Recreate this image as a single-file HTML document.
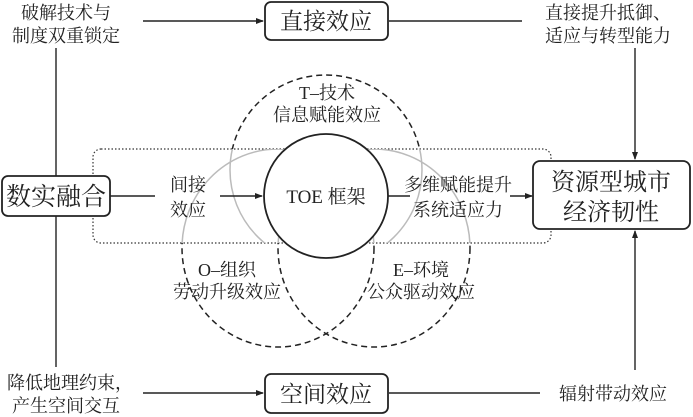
<!DOCTYPE html>
<html><head><meta charset="utf-8"><style>
html,body{margin:0;padding:0;background:#fff;}
svg{display:block;}
text{font-family:"Liberation Serif","Noto Serif CJK SC","Noto Sans CJK SC",serif;fill:#222;text-anchor:middle;}
</style></head><body>
<svg width="693" height="417" viewBox="0 0 693 417" xmlns="http://www.w3.org/2000/svg">
<defs>
<marker id="ar" markerWidth="8" markerHeight="8" refX="7" refY="4" orient="auto" markerUnits="userSpaceOnUse">
<path d="M0,1 L8,4 L0,7 z" fill="#222"/></marker>
<clipPath id="inRect"><rect x="0" y="149" width="693" height="94"/></clipPath>
<clipPath id="above"><rect x="0" y="0" width="693" height="149"/></clipPath>
<clipPath id="below"><rect x="0" y="243" width="693" height="200"/></clipPath>
</defs>
<!-- dotted rect -->
<rect x="93" y="149" width="458" height="94" rx="8" fill="none" stroke="#333" stroke-width="1.2" stroke-dasharray="1.5,2"/>
<!-- gray portions -->
<g clip-path="url(#inRect)" fill="none" stroke="#bbb" stroke-width="1.5">
<ellipse cx="326" cy="170" rx="96" ry="95"/>
<ellipse cx="278" cy="248" rx="96" ry="99"/>
<ellipse cx="374" cy="248" rx="96" ry="99"/>
</g>
<g clip-path="url(#above)" fill="none" stroke="#222" stroke-width="1.5" stroke-dasharray="6,4">
<ellipse cx="326" cy="170" rx="96" ry="95"/>
</g>
<g clip-path="url(#below)" fill="none" stroke="#222" stroke-width="1.5" stroke-dasharray="6,4">
<ellipse cx="278" cy="248" rx="96" ry="99"/>
<ellipse cx="374" cy="248" rx="96" ry="99"/>
</g>
<!-- TOE circle -->
<ellipse cx="326" cy="196" rx="62" ry="62" fill="#fff" stroke="#222" stroke-width="1.8"/>
<text x="326" y="203" font-size="19">TOE 框架</text>
<!-- boxes -->
<rect x="265" y="2" width="123" height="38" rx="6" fill="#fff" stroke="#222" stroke-width="1.8"/>
<text x="326" y="29" font-size="23">直接效应</text>
<rect x="265" y="374" width="123" height="39" rx="6" fill="#fff" stroke="#222" stroke-width="1.8"/>
<text x="326" y="402" font-size="23">空间效应</text>
<rect x="2" y="176" width="108" height="40" rx="6" fill="#fff" stroke="#222" stroke-width="1.8"/>
<text x="56" y="205" font-size="25">数实融合</text>
<rect x="533" y="161" width="157" height="68" rx="7" fill="#fff" stroke="#222" stroke-width="1.8"/>
<text x="611" y="190" font-size="24">资源型城市</text>
<text x="611" y="220" font-size="24">经济韧性</text>
<!-- connectors -->
<g stroke="#222" stroke-width="1.4" fill="none">
<line x1="143" y1="21" x2="263" y2="21" marker-end="url(#ar)"/>
<line x1="389" y1="21" x2="522" y2="21"/>
<line x1="635" y1="48" x2="635" y2="159" marker-end="url(#ar)"/>
<line x1="56" y1="48" x2="56" y2="176"/>
<line x1="56" y1="216" x2="56" y2="367"/>
<line x1="110" y1="196" x2="155" y2="196"/>
<line x1="220" y1="196" x2="262" y2="196" marker-end="url(#ar)"/>
<line x1="388" y1="196" x2="410" y2="196"/>
<line x1="510" y1="196" x2="532" y2="196" marker-end="url(#ar)"/>
<line x1="143" y1="393" x2="263" y2="393" marker-end="url(#ar)"/>
<line x1="389" y1="393" x2="540" y2="393"/>
<line x1="635" y1="370" x2="635" y2="231" marker-end="url(#ar)"/>
</g>
<!-- labels -->
<g font-size="18">
<text x="66" y="19">破解技术与</text>
<text x="66" y="42">制度双重锁定</text>
<text x="608" y="19">直接提升抵御、</text>
<text x="608" y="42">适应与转型能力</text>
<text x="70" y="389">降低地理约束，</text>
<text x="66" y="412">产生空间交互</text>
<text x="613" y="400">辐射带动效应</text>
<text x="188" y="191">间接</text>
<text x="188" y="216">效应</text>
<text x="458" y="191">多维赋能提升</text>
<text x="458" y="216">系统适应力</text>
<text x="327" y="99">T–技术</text>
<text x="327" y="121">信息赋能效应</text>
<text x="227" y="276">O–组织</text>
<text x="227" y="298">劳动升级效应</text>
<text x="421" y="276">E–环境</text>
<text x="421" y="298">公众驱动效应</text>
</g>
</svg>
</body></html>
